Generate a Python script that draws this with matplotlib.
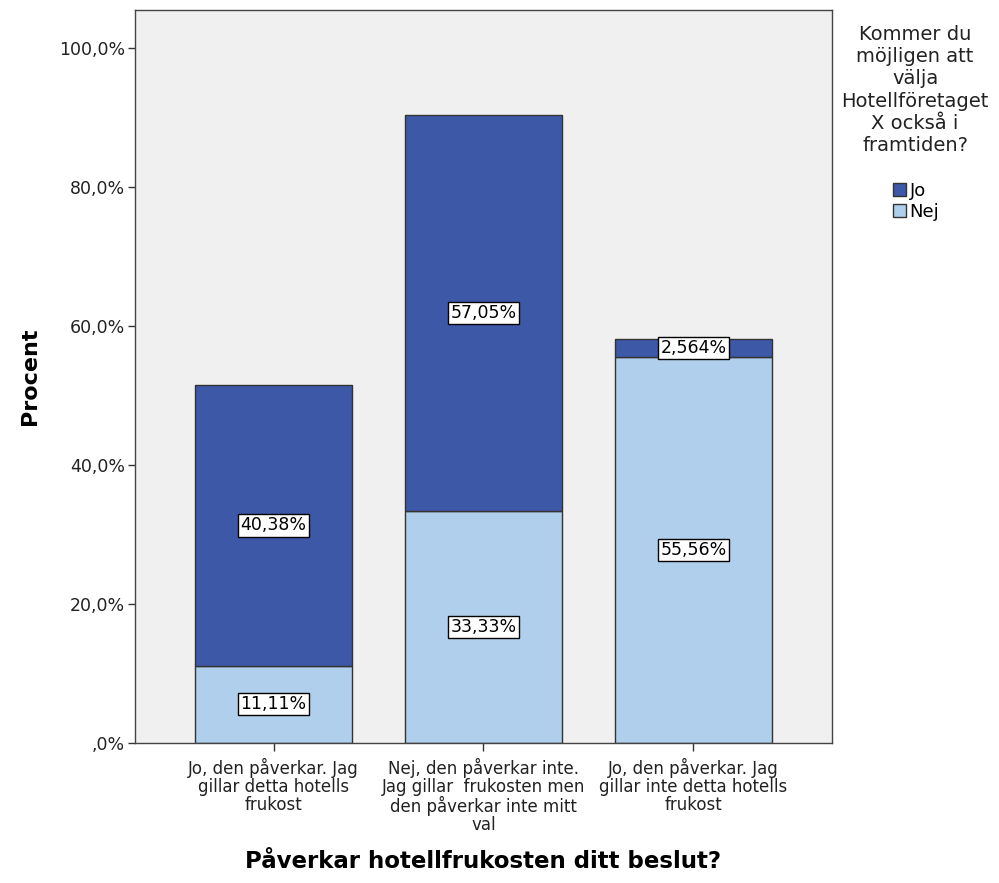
import matplotlib
matplotlib.use("Agg")
import matplotlib.pyplot as plt
from matplotlib.patches import Patch
import numpy as np

# Survey answers (percent of all respondents)
categories = [
    "Jo, den påverkar. Jag\ngillar detta hotells\nfrukost",
    "Nej, den påverkar inte.\nJag gillar  frukosten men\nden påverkar inte mitt\nval",
    "Jo, den påverkar. Jag\ngillar inte detta hotells\nfrukost",
]
nej_values = [11.11, 33.33, 55.56]
jo_values = [40.38, 57.05, 2.564]
nej_labels = ["11,11%", "33,33%", "55,56%"]
jo_labels = ["40,38%", "57,05%", "2,564%"]
yticks = [0, 20, 40, 60, 80, 100]

legend_title = "Kommer du\nmöjligen att\nvälja\nHotellföretaget\nX också i\nframtiden?"
series_names = ["Jo", "Nej"]

col_jo = "#3E58A8"
col_nej = "#AFCFEC"
edge = "#333333"

plt.rcParams["font.family"] = ["DejaVu Sans"]

fig = plt.figure(figsize=(9.99, 8.83), dpi=100)
ax = fig.add_axes([0.1351, 0.1586, 0.8328 - 0.1351, 0.9887 - 0.1586])
ax.set_facecolor("#F0F0F0")

x = np.arange(len(categories))
width = 0.75
ax.bar(x, nej_values, width, color=col_nej, edgecolor=edge, linewidth=1.0, zorder=2)
ax.bar(x, jo_values, width, bottom=nej_values, color=col_jo, edgecolor=edge,
       linewidth=1.0, zorder=2)

box = dict(boxstyle="square,pad=0.12", facecolor="white", edgecolor="black", linewidth=1.0)
for i in range(len(categories)):
    ax.text(x[i], nej_values[i] / 2, nej_labels[i], ha="center", va="center",
            fontsize=12.5, color="black", bbox=box, zorder=3)
    ax.text(x[i], nej_values[i] + jo_values[i] / 2, jo_labels[i], ha="center",
            va="center", fontsize=12.5, color="black", bbox=box, zorder=3)


def pct_label(v):
    s = ("%.1f%%" % v).replace(".", ",")
    return s[1:] if v == 0 else s


ax.set_xlim(-0.66, 2.66)
ax.set_ylim(0, 105.47)
ax.set_yticks(yticks)
ax.set_yticklabels([pct_label(v) for v in yticks], fontsize=12.5, color="#222222")
ax.set_xticks(x)
ax.set_xticklabels(categories, fontsize=12, linespacing=0.98, color="#222222")
ax.tick_params(axis="y", direction="out", length=5, width=1, color="#333333", pad=2)
ax.tick_params(axis="x", direction="out", length=6, width=1, color="#333333", pad=5)
for s in ax.spines.values():
    s.set_color("#444444")
    s.set_linewidth(1.0)

ax.set_ylabel("Procent", fontsize=16, fontweight="bold", labelpad=14)
ax.set_xlabel("Påverkar hotellfrukosten ditt beslut?", fontsize=16.5,
              fontweight="bold", labelpad=12)

fig.text(0.916, 0.972, legend_title, ha="center", va="top", fontsize=14,
         linespacing=1.22, color="#222222")
handles = [Patch(facecolor=col_jo, edgecolor=edge, linewidth=1.0),
           Patch(facecolor=col_nej, edgecolor=edge, linewidth=1.0)]
fig.legend(handles, series_names, loc="upper left", bbox_to_anchor=(0.894, 0.794),
           frameon=False, fontsize=13, handlelength=0.72, handleheight=0.75,
           handletextpad=0.2, labelspacing=0.15, borderpad=0, borderaxespad=0)

fig.savefig("out.png", dpi=100)
